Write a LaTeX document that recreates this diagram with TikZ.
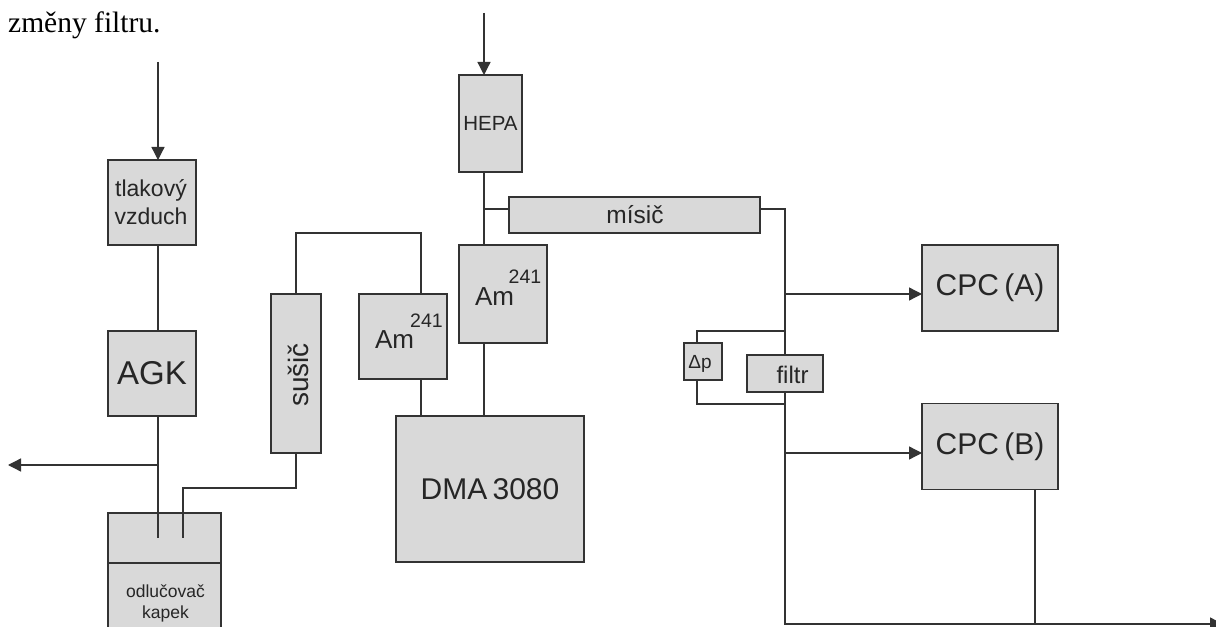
\documentclass[tikz,border=0pt]{standalone}
\usepackage{fontspec}
\setmainfont{Liberation Sans}
\newfontfamily\serifa{Liberation Serif}
\usetikzlibrary{arrows.meta,calc}
\definecolor{boxgrey}{HTML}{D9D9D9}
\definecolor{ink}{HTML}{333333}
\newcommand{\fsz}[1]{\fontsize{#1bp}{1.15\dimexpr #1bp\relax}\selectfont}
\tikzset{
  box/.style={draw=ink,fill=boxgrey,line width=1.3bp,rectangle,inner sep=0pt,outer sep=0pt,text=black!85},
  lbl/.style={inner sep=0pt,outer sep=0pt,text=black!85,align=center},
  wire/.style={draw=ink,line width=1.3bp,line join=miter},
  flow/.style={wire,-{Triangle[length=13bp,width=13bp]}}
}
\begin{document}
\begin{tikzpicture}[x=1bp,y=-1bp]
\useasboundingbox (0,0) rectangle (1216,627);
\clip (0,0) rectangle (1216,627);
\fill[white] (0,0) rectangle (1216,627);
% column coordinates
\coordinate (a) at (158,0);
\coordinate (b) at (183,0);
\coordinate (c) at (296,0);
\coordinate (d) at (421,0);
\coordinate (e) at (484,0);
\coordinate (f) at (785,0);
\coordinate (g) at (697,0);
\coordinate (h) at (1035,0);
% boxes
\node[box,minimum width=88bp,minimum height=85bp] (tlak) at (152,202.5) {};
\node[lbl,font=\fsz{23}] (tlaktext) at (151,202.5) {tlakový\\[1.5bp]vzduch};
\node[box,minimum width=88bp,minimum height=85bp,font=\fsz{33}] (agk) at (152,373.5) {AGK};
\node[box,minimum width=113bp,minimum height=50bp] (odl1) at (164.5,538) {};
\node[box,minimum width=113bp,minimum height=90bp] (odl2) at (164.5,608) {};
\node[lbl,font=\fsz{17.5}] (odltext) at (165.5,603.5) {odlučovač\\[0bp]kapek};
\node[box,minimum width=50bp,minimum height=159bp] (susic) at (296,373.5) {};
\node[lbl,font=\fsz{28},rotate=90] (susictext) at (298.5,375) {sušič};
\node[box,minimum width=88bp,minimum height=85bp] (amL) at (403,336.5) {};
\node[lbl,font=\fsz{26}] (amLa) at (394.5,340) {Am};
\node[lbl,font=\fsz{19.5}] (amLn) at (426.5,321) {241};
\node[box,minimum width=188bp,minimum height=146bp,font=\fsz{30}] (dma) at (490,489) {DMA\hspace{-3bp} 3080};
\node[box,minimum width=88bp,minimum height=98bp] (amR) at (503,294) {};
\node[lbl,font=\fsz{26}] (amRa) at (494.5,297) {Am};
\node[lbl,font=\fsz{19.5}] (amRn) at (525,277) {241};
\node[box,minimum width=63bp,minimum height=97bp,font=\fsz{20.5}] (hepa) at (490.5,123.5) {HEPA};
\node[box,minimum width=251bp,minimum height=36bp] (misic) at (634.5,215) {};
\node[lbl,font=\fsz{24.5}] (misictext) at (635,215) {mísič};
\node[box,minimum width=136bp,minimum height=86bp,font=\fsz{30}] (cpca) at (990,288) {CPC\hspace{-3bp} (A)};
\node[box,minimum width=136bp,minimum height=86bp,font=\fsz{30}] (cpcb) at (990,446.5) {CPC\hspace{-3bp} (B)};
\node[box,minimum width=38bp,minimum height=37bp] (dp) at (703,361.5) {};
\node[lbl,font=\fsz{19}] (dptext) at (700,364) {Δp};
\node[box,minimum width=76bp,minimum height=37bp] (filtr) at (785,373.5) {};
\node[lbl,font=\fsz{24}] (filtrtext) at (792.5,375) {filtr};
% text at the top
\node[anchor=base west,inner sep=0pt,font=\serifa\fsz{29.5}] (caption) at (8,33) {změny filtru.};
% free ends
\coordinate (inL) at (158,62);
\coordinate (inR) at (484,13);
\coordinate (exL) at (8,465);
\coordinate (exR) at (1223,624);
\coordinate (endA) at (158,538);
\coordinate (endB) at (183,538);
\coordinate (corner1) at (296,488);
\coordinate (loopTop) at (296,233);
\coordinate (mixY) at (484,209);
\coordinate (topDp) at (697,331);
\coordinate (botDp) at (697,404);
% connectors
\draw[flow] (inL) -- (a |- tlak.north);
\draw[flow] (inR) -- (e |- hepa.north);
\draw[wire] (a |- tlak.south) -- (a |- agk.north);
\draw[wire] (a |- agk.south) -- (endA);
\draw[flow] (a |- exL) -- (exL);
\draw[wire] (c |- susic.south) -- (corner1) -- (b |- corner1) -- (endB);
\draw[wire] (c |- susic.north) -- (loopTop) -- (d |- loopTop) -- (d |- amL.north);
\draw[wire] (d |- amL.south) -- (d |- dma.north);
\draw[wire] (e |- hepa.south) -- (e |- amR.north);
\draw[wire] (mixY) -- (misic.west |- mixY);
\draw[wire] (e |- amR.south) -- (e |- dma.north);
\draw[wire] (misic.east |- mixY) -- (f |- mixY) -- (f |- filtr.north);
\draw[flow] (f |- filtr.south) -- (f |- exR) -- (exR);
\draw[flow] (f |- 0,294) -- (cpca.west |- 0,294);
\draw[flow] (f |- 0,453) -- (cpcb.west |- 0,453);
\draw[wire] (f |- topDp) -- (topDp) -- (g |- dp.north);
\draw[wire] (g |- dp.south) -- (botDp) -- (f |- botDp);
\draw[wire] (h |- cpcb.south) -- (h |- exR);
\end{tikzpicture}
\end{document}
